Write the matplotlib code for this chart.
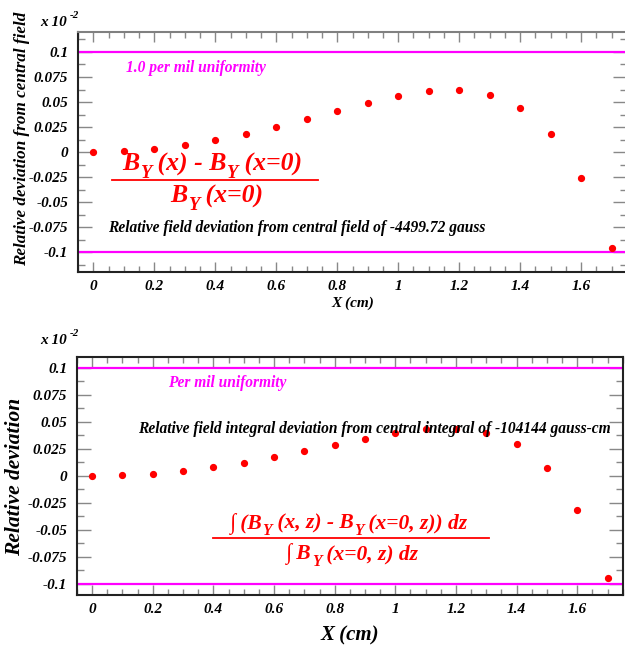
import matplotlib
matplotlib.use("Agg")
import matplotlib.pyplot as plt
from matplotlib.ticker import MultipleLocator, FuncFormatter
from matplotlib.transforms import IdentityTransform

FONT = dict(family='Liberation Serif', style='italic', weight='bold')

# ---- data ----
x_pos = [0.0, 0.1, 0.2, 0.3, 0.4, 0.5, 0.6, 0.7, 0.8, 0.9, 1.0, 1.1, 1.2, 1.3, 1.4, 1.5, 1.6, 1.7]
field_dev = [0.0, 0.001, 0.0033, 0.0067, 0.0117, 0.018, 0.025, 0.033, 0.0413, 0.049,
             0.0557, 0.0607, 0.0617, 0.057, 0.044, 0.018, -0.026, -0.0963]
integral_dev = [0.0, 0.0006, 0.0019, 0.0046, 0.0083, 0.012, 0.0173, 0.0228, 0.0287, 0.0343,
                0.0392, 0.0432, 0.0438, 0.0398, 0.0296, 0.0074, -0.0312, -0.0948]
uniformity_limits = [0.1, -0.1]
x_ticks = [0, 0.2, 0.4, 0.6, 0.8, 1.0, 1.2, 1.4, 1.6]
y_ticks = [-0.1, -0.075, -0.05, -0.025, 0, 0.025, 0.05, 0.075, 0.1]

fig = plt.figure(figsize=(6.25, 6.52), dpi=100)
W, H = 625, 652
renderer = fig.canvas.get_renderer()

def add_axes(l, t, r, b):
    return fig.add_axes([l / W, 1 - b / H, (r - l) / W, (b - t) / H])

def fmt(v, pos):
    s = ('%g' % v)
    if s == '-0':
        s = '0'
    return s

def rich(ax, x, y, pieces, size, color):
    """Draw a sequence of (text, is_subscript) pieces centred at data (x, y)."""
    px, py = ax.transData.transform((x, y))
    texts = []
    widths = []
    for s, sub in pieces:
        fs = size * 0.72 if sub else size
        t = fig.text(0, 0, s, fontsize=fs, color=color, transform=IdentityTransform(),
                     ha='left', va='baseline', **FONT)
        bb = t.get_window_extent(renderer)
        texts.append((t, sub))
        widths.append(bb.width)
    total = sum(widths)
    cur = px - total / 2
    base = py - size * 0.33 * 100 / 72
    for (t, sub), w in zip(texts, widths):
        dy = -size * 0.30 * 100 / 72 if sub else 0
        t.set_position((cur, base + dy))
        cur += w

def style(ax, ylim, spine_top='#808080', spine_right='#808080'):
    ax.set_xlim(-0.05, 1.75)
    ax.set_ylim(*ylim)
    ax.set_xticks(x_ticks)
    ax.set_yticks(y_ticks)
    ax.xaxis.set_minor_locator(MultipleLocator(0.05))
    ax.yaxis.set_minor_locator(MultipleLocator(0.0125))
    ax.xaxis.set_major_formatter(FuncFormatter(fmt))
    ax.yaxis.set_major_formatter(FuncFormatter(fmt))
    ax.tick_params(which='both', direction='in', top=True, right=True, color='#888888', width=1)
    ax.tick_params(axis='x', which='major', length=7, pad=6)
    ax.tick_params(axis='x', which='minor', length=4)
    ax.tick_params(axis='y', which='major', length=10, pad=7)
    ax.tick_params(axis='y', which='minor', length=5)
    for lab in ax.get_xticklabels() + ax.get_yticklabels():
        lab.set_fontfamily('Liberation Serif')
        lab.set_fontstyle('italic')
        lab.set_fontweight('bold')
        lab.set_fontsize(11)
    ax.spines['left'].set_color('#222222')
    ax.spines['bottom'].set_color('#222222')
    ax.spines['top'].set_color(spine_top)
    ax.spines['right'].set_color(spine_right)
    for s in ax.spines.values():
        s.set_linewidth(1.5)
    for yl in uniformity_limits:
        ax.axhline(yl, color='#ff00ff', lw=1.6, zorder=2)

# ---- top panel ----
ax1 = add_axes(78, 32, 627, 272)
style(ax1, (-0.12, 0.12))
ax1.plot(x_pos, field_dev, 'o', color='#ff0000', ms=4.2, mec='#ff0000', zorder=3)
ax1.text(0.107, 0.084, '1.0 per mil uniformity', color='#ff00ff', fontsize=11.2, va='center', ha='left', **FONT)
rich(ax1, 0.39, -0.010, [('B', False), ('Y', True), (' (x) - B', False), ('Y', True), (' (x=0)', False)],
     18.5, '#ff0000')
ax1.plot([0.061, 0.736], [-0.028, -0.028], color='#ff0000', lw=1.3, clip_on=False)
rich(ax1, 0.405, -0.042, [('B', False), ('Y', True), (' (x=0)', False)], 18.5, '#ff0000')
ax1.text(0.048, -0.076, 'Relative field deviation from central field of -4499.72 gauss',
         color='black', fontsize=11.2, va='center', ha='left', **FONT)
ax1.set_xlabel('X (cm)', fontsize=11, labelpad=2, **FONT)
ax1.set_ylabel('Relative deviation from central field', fontsize=12.3, **FONT)
ax1.yaxis.set_label_coords(-0.102, 0.554)
ax1.yaxis.label.set_va('center')
fig.text(40 / W, 1 - 22 / H, 'x 10', fontsize=11, ha='left', va='center', **FONT)
fig.text(70 / W, 1 - 15 / H, '-2', fontsize=8, ha='left', va='center', **FONT)

# ---- bottom panel ----
ax2 = add_axes(77, 356.7, 622.7, 594.7)
style(ax2, (-0.1099, 0.1102), spine_top='#222222', spine_right='#222222')
ax2.plot(x_pos, integral_dev, 'o', color='#ff0000', ms=4.2, mec='#ff0000', zorder=3)
ax2.text(0.251, 0.0855, 'Per mil uniformity', color='#ff00ff', fontsize=11.2, va='center', ha='left', **FONT)
ax2.text(0.151, 0.0438, 'Relative field integral deviation from central integral of -104144 gauss-cm',
         color='black', fontsize=11.2, va='center', ha='left', **FONT)
rich(ax2, 0.846, -0.0423,
     [('\u222b (B', False), ('Y', True), (' (x, z) - B', False), ('Y', True), (' (x=0, z)) dz', False)],
     15.5, '#ff0000')
ax2.plot([0.40, 1.308], [-0.0571, -0.0571], color='#ff0000', lw=1.3)
rich(ax2, 0.858, -0.0705, [('\u222b B', False), ('Y', True), (' (x=0, z) dz', False)], 15.5, '#ff0000')
ax2.set_xlabel('X (cm)', fontsize=15, labelpad=7, **FONT)
ax2.set_ylabel('Relative deviation', fontsize=15.5, **FONT)
ax2.yaxis.set_label_coords(-0.1136, 0.497)
ax2.yaxis.label.set_va('center')
fig.text(40 / W, 1 - 340 / H, 'x 10', fontsize=11, ha='left', va='center', **FONT)
fig.text(70 / W, 1 - 333 / H, '-2', fontsize=8, ha='left', va='center', **FONT)

fig.savefig('out.png', dpi=100)
